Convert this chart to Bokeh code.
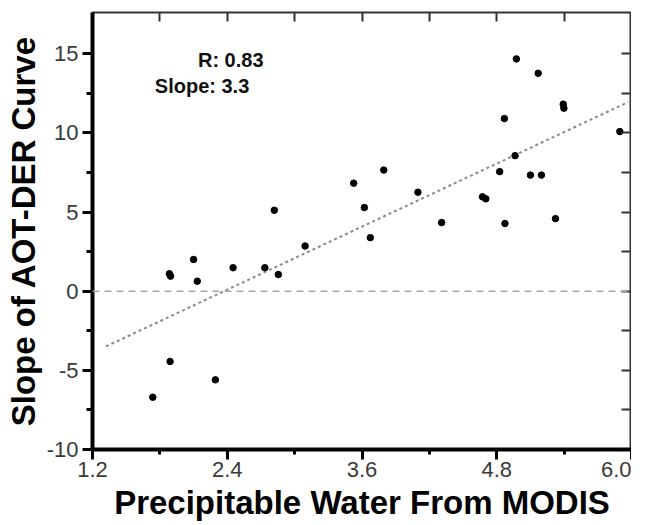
from bokeh.plotting import figure
from bokeh.models import LinearAxis, FixedTicker, PrintfTickFormatter, Span, Label, Range1d
from bokeh.embed import file_html
from bokeh.resources import INLINE

# ---- data ----
pw_modis = [1.737, 1.885, 1.895, 1.891, 2.100, 2.133, 2.294, 2.452, 2.735, 2.819,
            2.855, 3.093, 3.526, 3.621, 3.674, 3.794, 4.098, 4.309, 4.673, 4.703,
            4.826, 4.868, 4.873, 4.963, 4.975, 5.100, 5.169, 5.198, 5.323, 5.392,
            5.398, 5.896]
aot_der_slope = [-6.70, 1.10, 0.95, -4.44, 2.00, 0.63, -5.60, 1.48, 1.48, 5.11,
                 1.05, 2.85, 6.82, 5.28, 3.38, 7.65, 6.25, 4.33, 5.96, 5.83,
                 7.55, 10.90, 4.27, 8.56, 14.67, 7.33, 13.76, 7.33, 4.58, 11.81,
                 11.56, 10.08]
fit_x = [1.32, 5.97]
fit_y = [-3.49, 11.94]

x_ticks = [1.2, 2.4, 3.6, 4.8, 6.0]
x_minor = [1.8, 3.0, 4.2, 5.4]
y_ticks = [-10, -5, 0, 5, 10, 15]
y_minor = [-7.5, -2.5, 2.5, 7.5, 12.5]
top_ticks = [1.8, 2.4, 3.0, 3.6, 4.2, 4.8, 5.4]
right_ticks = [-7.5, -5, -2.5, 0, 2.5, 5, 7.5, 10, 12.5, 15]

r_text = "R: 0.83"
slope_text = "Slope: 3.3"

FONT = "Liberation Sans"

p = figure(width=631, height=523, x_range=Range1d(1.2, 6.0), y_range=Range1d(-10, 17.6),
           output_backend="svg", toolbar_location=None,
           min_border_left=92, min_border_right=0, min_border_top=12, min_border_bottom=60)
p.grid.visible = False
p.outline_line_color = "#333333"
p.outline_line_width = 2
p.background_fill_color = "white"
p.border_fill_color = "white"

# bottom axis
xa = p.xaxis[0]
xa.ticker = FixedTicker(ticks=x_ticks, minor_ticks=x_minor)
xa.formatter = PrintfTickFormatter(format="%.1f")
xa.axis_line_width = 4
xa.axis_line_color = "black"
xa.major_tick_out = 10
xa.major_tick_in = 0
xa.minor_tick_out = 5
xa.minor_tick_in = 0
xa.major_tick_line_width = 3
xa.minor_tick_line_width = 3
xa.major_label_text_font = FONT
xa.major_label_text_font_size = "22px"
xa.major_label_text_color = "#3a3a3a"
xa.major_label_text_line_height = 1.0
xa.major_label_standoff = 2
xa.axis_label = "Precipitable Water From MODIS"
xa.axis_label_text_font = FONT
xa.axis_label_text_font_size = "33px"
xa.axis_label_text_font_style = "bold"
xa.axis_label_text_color = "black"
xa.axis_label_text_line_height = 1.0
xa.axis_label_standoff = 4

# left axis
ya = p.yaxis[0]
ya.ticker = FixedTicker(ticks=y_ticks, minor_ticks=y_minor)
ya.formatter = PrintfTickFormatter(format="%d")
ya.axis_line_width = 4
ya.axis_line_color = "black"
ya.major_tick_out = 10
ya.major_tick_in = 0
ya.minor_tick_out = 6
ya.minor_tick_in = 0
ya.major_tick_line_width = 3
ya.minor_tick_line_width = 3
ya.major_label_text_font = FONT
ya.major_label_text_font_size = "22px"
ya.major_label_text_color = "#3a3a3a"
ya.major_label_standoff = 4
ya.axis_label = "Slope of AOT-DER Curve"
ya.axis_label_text_font = FONT
ya.axis_label_text_font_size = "33px"
ya.axis_label_text_font_style = "bold"
ya.axis_label_text_color = "black"
ya.axis_label_text_line_height = 1.0
ya.axis_label_standoff = 2

# mirrored ticks on top and right
top_axis = LinearAxis(ticker=FixedTicker(ticks=top_ticks, minor_ticks=[]),
                      major_label_text_font_size="0px", major_label_text_alpha=0,
                      major_label_standoff=0, major_tick_in=9, major_tick_out=0,
                      minor_tick_in=0, minor_tick_out=0, axis_line_color=None,
                      major_tick_line_width=2, major_tick_line_color="#333333")
p.add_layout(top_axis, "above")
right_axis = LinearAxis(ticker=FixedTicker(ticks=right_ticks, minor_ticks=[]),
                        major_label_text_font_size="0px", major_label_text_alpha=0,
                        major_label_standoff=0, major_tick_in=10, major_tick_out=0,
                        minor_tick_in=0, minor_tick_out=0, axis_line_color=None,
                        major_tick_line_width=2, major_tick_line_color="#333333")
p.add_layout(right_axis, "right")

# zero line
p.add_layout(Span(location=0, dimension="width", line_color="#a8a8a8",
                  line_width=1.5, line_dash="7 5"))

# regression line
p.line(fit_x, fit_y, line_color="#8a8a8a", line_width=2, line_dash="3 3")

# points
p.scatter(pw_modis, aot_der_slope, size=6.5, color="black")

# annotations
p.add_layout(Label(x=2.139, y=14.6, text=r_text, text_font=FONT, text_font_size="20px",
                   text_font_style="bold", text_color="#111111", text_baseline="alphabetic"))
p.add_layout(Label(x=1.755, y=12.95, text=slope_text, text_font=FONT, text_font_size="20px",
                   text_font_style="bold", text_color="#111111", text_baseline="alphabetic"))

open("out.html", "w").write(file_html(p, INLINE))
